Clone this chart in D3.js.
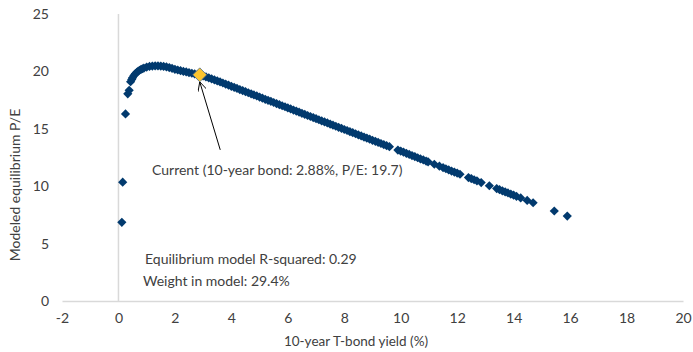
<!DOCTYPE html>
<html>
<head>
<meta charset="utf-8">
<script src="https://cdn.jsdelivr.net/npm/d3@7"></script>
<style>
  body { margin: 0; background: #fff; }
  text { font-family: Lato, "Open Sans", sans-serif; fill: #404040; }
</style>
</head>
<body>
<svg id="graph" width="693" height="352"></svg>
<script>
// 10-year yield (%) and modeled P/E
var yields = [0.12, 0.15, 0.25, 0.33, 0.38,
  0.43, 0.47, 0.5, 0.55, 0.6, 0.65, 0.7, 0.75, 0.8, 0.85, 0.9, 1.0, 1.1, 1.2, 1.3, 1.4, 1.5, 1.6, 1.7, 1.8, 1.9,
  2.0, 2.1, 2.2, 2.3, 2.4, 2.5, 2.6, 2.7, 2.8, 2.9, 3.0, 3.1, 3.2, 3.3, 3.4, 3.5, 3.6, 3.7, 3.8, 3.9,
  4.0, 4.1, 4.2, 4.3, 4.4, 4.5, 4.6, 4.7, 4.8, 4.9, 5.0, 5.1, 5.2, 5.3, 5.4, 5.5, 5.6, 5.7, 5.8, 5.9,
  6.0, 6.1, 6.2, 6.3, 6.4, 6.5, 6.6, 6.7, 6.8, 6.9, 7.0, 7.1, 7.2, 7.3, 7.4, 7.5, 7.6, 7.7, 7.8, 7.9,
  8.0, 8.1, 8.2, 8.3, 8.4, 8.5, 8.6, 8.7, 8.8, 8.9, 9.0, 9.1, 9.2, 9.3, 9.4, 9.5, 9.6,
  9.9, 10.0, 10.1, 10.2, 10.3, 10.4, 10.5, 10.6, 10.7, 10.8, 10.9, 10.97, 11.19,
  11.37, 11.5, 11.6, 11.7, 11.8, 11.9, 12.0, 12.1, 12.4, 12.5, 12.6, 12.7, 12.85, 13.14,
  13.4, 13.5, 13.6, 13.7, 13.8, 13.9, 14.0, 14.1, 14.25, 14.48, 14.69, 15.44, 15.9];
var pe = [6.85, 10.35, 16.3, 18.05, 18.35,
  19.1, 19.3, 19.45, 19.65, 19.8, 19.92, 20.02, 20.1, 20.17, 20.23, 20.28, 20.38, 20.43, 20.46, 20.48, 20.48, 20.46, 20.43, 20.39, 20.33, 20.26,
  20.18, 20.12, 20.06, 20.0, 19.95, 19.89, 19.84, 19.78, 19.73, 19.67, 19.6, 19.52, 19.44, 19.35, 19.26, 19.17, 19.08, 18.99, 18.89, 18.8,
  18.7, 18.61, 18.52, 18.42, 18.33, 18.23, 18.14, 18.05, 17.95, 17.86, 17.76, 17.67, 17.57, 17.48, 17.39, 17.29, 17.2, 17.1, 17.01, 16.92,
  16.82, 16.73, 16.63, 16.54, 16.45, 16.35, 16.26, 16.16, 16.07, 15.98, 15.88, 15.79, 15.69, 15.6, 15.51, 15.41, 15.32, 15.22, 15.13, 15.04,
  14.94, 14.85, 14.75, 14.66, 14.57, 14.47, 14.38, 14.28, 14.19, 14.1, 14.0, 13.91, 13.81, 13.72, 13.63, 13.53, 13.44,
  13.15, 13.06, 12.96, 12.86, 12.77, 12.67, 12.58, 12.48, 12.38, 12.29, 12.19, 12.12, 11.91,
  11.74, 11.61, 11.52, 11.42, 11.32, 11.23, 11.14, 11.04, 10.75, 10.66, 10.56, 10.47, 10.32, 10.04,
  9.79, 9.7, 9.6, 9.5, 9.41, 9.31, 9.22, 9.12, 8.98, 8.76, 8.56, 7.84, 7.4];

// 現在値
var currentYield = 2.88;
var currentPE = 19.7;

var xTicks = [-2, 0, 2, 4, 6, 8, 10, 12, 14, 16, 18, 20];
var yTicks = [0, 5, 10, 15, 20, 25];

var data = yields.map(function(d, i) { return {x: d, y: pe[i]}; });

var svg = d3.select("#graph");
var margin = {top: 14, right: 10, bottom: 51, left: 62};
var width = 683 - margin.left;
var height = 301 - margin.top;

var g = svg.append("g")
    .attr("transform", "translate(" + margin.left + "," + margin.top + ")");

var xScale = d3.scaleLinear().domain([-2, 20]).range([0, width]);
var yScale = d3.scaleLinear().domain([0, 25]).range([height, 0]);

// x軸 (マイナスはハイフン)
var xAxis = g.append("g")
    .attr("transform", "translate(0," + height + ")")
    .call(d3.axisBottom(xScale).tickValues(xTicks).tickSize(0).tickPadding(12)
        .tickFormat(function(d) { return String(d); }));
xAxis.select(".domain").attr("stroke", "#d9d9d9").attr("stroke-width", 1.5);
xAxis.selectAll("text").style("font-size", "14px").attr("fill", "#404040");

// y軸 (ラベルはプロットの左端)
var yAxis = g.append("g")
    .call(d3.axisLeft(yScale).tickValues(yTicks).tickSize(0).tickPadding(13));
yAxis.select(".domain").remove();
yAxis.selectAll("text").style("font-size", "14px").attr("fill", "#404040");

// x=0 の縦線
g.append("line")
    .attr("x1", xScale(0)).attr("x2", xScale(0))
    .attr("y1", yScale(25)).attr("y2", yScale(0))
    .attr("stroke", "#d9d9d9")
    .attr("stroke-width", 1.5);

// 菱形マーカー
function diamond(r) {
    return "M0," + (-r) + "L" + r + ",0L0," + r + "L" + (-r) + ",0Z";
}

g.selectAll(".pt")
    .data(data)
    .enter()
    .append("path")
    .attr("class", "pt")
    .attr("d", diamond(4.6))
    .attr("transform", function(d) { return "translate(" + xScale(d.x) + "," + yScale(d.y) + ")"; })
    .attr("fill", "#023a6e");

// 現在値マーカー
g.append("path")
    .attr("d", diamond(7))
    .attr("transform", "translate(" + xScale(currentYield) + "," + yScale(currentPE) + ")")
    .attr("fill", "#fcc52f")
    .attr("stroke", "#4a6a8a")
    .attr("stroke-width", 0.8);

// 矢印
svg.append("defs").append("marker")
    .attr("id", "arrow")
    .attr("viewBox", "0 0 10 10")
    .attr("refX", 10).attr("refY", 5)
    .attr("markerWidth", 9).attr("markerHeight", 9)
    .attr("markerUnits", "userSpaceOnUse")
    .attr("orient", "auto")
    .append("path")
    .attr("d", "M0,0L10,5L0,10")
    .attr("fill", "none")
    .attr("stroke", "#000")
    .attr("stroke-width", 1);

var ax = xScale(currentYield), ay = yScale(currentPE) + 7;
g.append("line")
    .attr("x1", ax + 20.5).attr("y1", ay + 68)
    .attr("x2", ax).attr("y2", ay)
    .attr("stroke", "#000")
    .attr("stroke-width", 1)
    .attr("marker-end", "url(#arrow)");

// 注記
svg.append("text")
    .attr("x", 152).attr("y", 175)
    .style("font-size", "14px")
    .text("Current (10-year bond: 2.88%, P/E: 19.7)");
svg.append("text")
    .attr("x", 145).attr("y", 264)
    .style("font-size", "14px")
    .text("Equilibrium model R-squared: 0.29");
svg.append("text")
    .attr("x", 143).attr("y", 286)
    .style("font-size", "14px")
    .text("Weight in model: 29.4%");

// 軸タイトル
svg.append("text")
    .attr("x", 356).attr("y", 346)
    .attr("text-anchor", "middle")
    .style("font-size", "13.5px")
    .text("10-year T-bond yield (%)");
svg.append("text")
    .attr("transform", "translate(20,185) rotate(-90)")
    .attr("text-anchor", "middle")
    .style("font-size", "14px")
    .text("Modeled equilibrium P/E");
</script>
</body>
</html>
